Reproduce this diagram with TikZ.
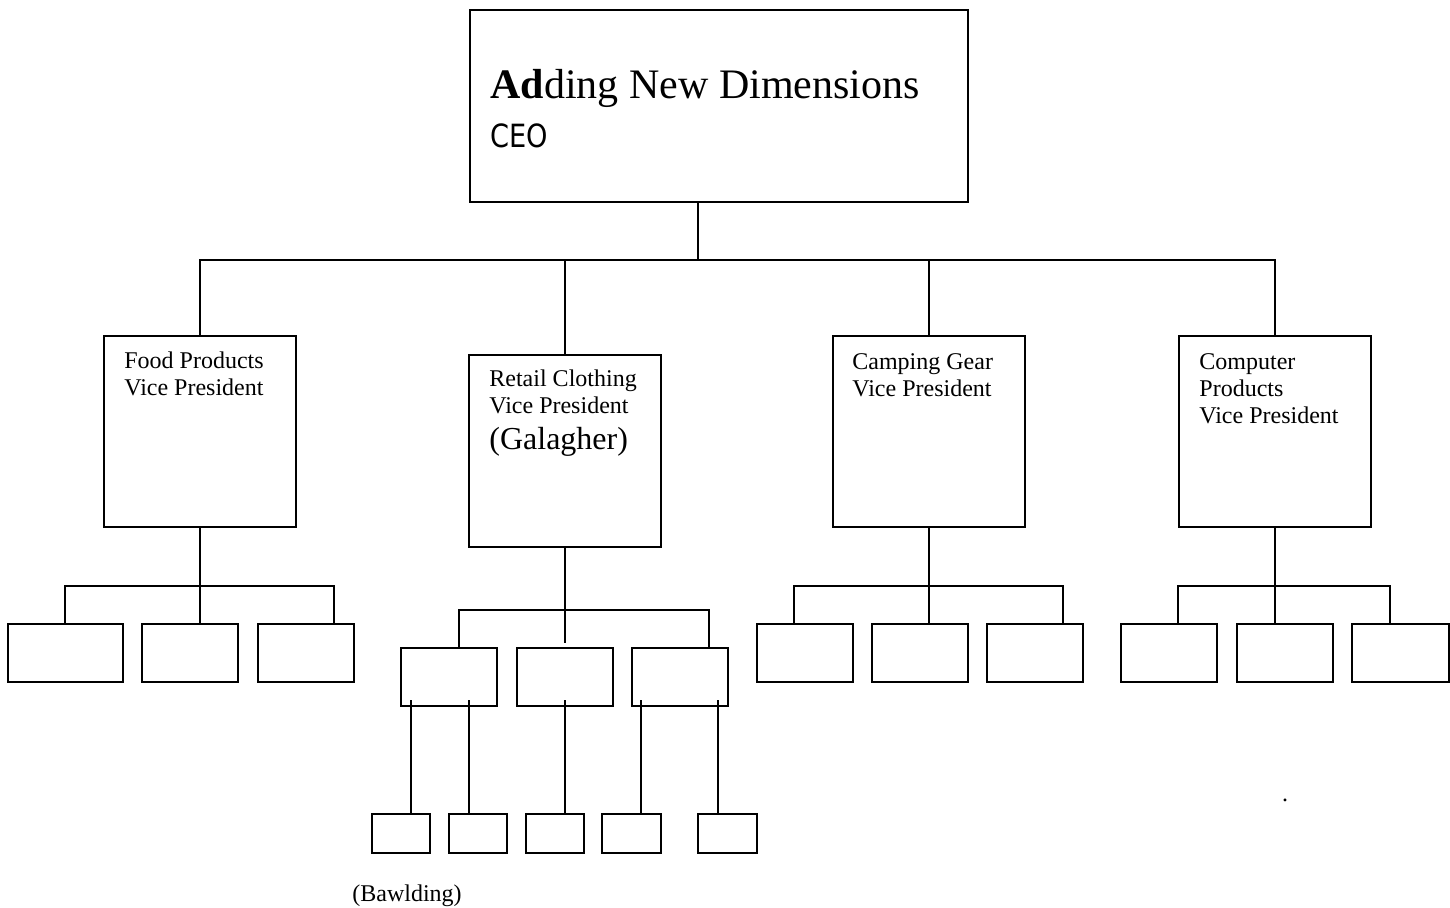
\documentclass[tikz,border=0pt]{standalone}
\usepackage{fontspec}
\setmainfont{Liberation Serif}
\newfontfamily\ceofont{DejaVu Sans}[FakeStretch=0.85]
\usetikzlibrary{positioning,calc}

\begin{document}
\begin{tikzpicture}[x=0.5pt, y=-0.5pt,
  box/.style={rectangle, draw, line width=1pt, inner sep=0pt},
  vpbox/.style={box, minimum width=96pt, minimum height=95.5pt},
  unitbox/.style={box, minimum width=48pt, minimum height=29pt},
  teambox/.style={box, minimum width=29pt, minimum height=19.5pt},
  boxtext/.style={anchor=base west, inner sep=0pt, align=left, font=\fontsize{12}{13.5}\selectfont},
  link/.style={line width=0.8pt}]

\useasboundingbox (0,0) rectangle (1450,907);

% top
\node[box, minimum width=249pt, minimum height=96pt] (ceo) at (719,106) {};
\node[anchor=base west, inner sep=0pt, align=left, font=\fontsize{21}{24.5}\selectfont] (ceotxt) at ([xshift=10.5pt,yshift=-69pt]ceo.north west) {\textbf{Ad}ding New Dimensions\\{\ceofont\fontsize{16}{19}\selectfont CEO}};

% vice presidents
\node[vpbox] (food) at (200,431.5) {};
\node[vpbox, minimum height=96pt] (retail) at (565,451) {};
\node[vpbox] (camping) at (929,431.5) {};
\node[vpbox] (computer) at (1275,431.5) {};

% text sits on the baseline of its last line
\node[boxtext] (foodtxt) at ([xshift=10.5pt,yshift=-30pt]food.north west) {Food Products\\Vice President};
\node[boxtext] (retailtxt) at ([xshift=10.5pt,yshift=-29.5pt]retail.north west) {Retail Clothing\\Vice President};
\node[boxtext, font=\fontsize{16}{18}\selectfont] (galagher) at ([yshift=-18pt]retailtxt.base west) {(Galagher)};
\node[boxtext] (campingtxt) at ([xshift=10pt,yshift=-30.5pt]camping.north west) {Camping Gear\\Vice President};
\node[boxtext] (computertxt) at ([xshift=10.5pt,yshift=-44pt]computer.north west) {Computer\\Products\\Vice President};

\coordinate (ceodrop) at (698,260);
\draw[link] (ceodrop |- ceo.south) -- (ceodrop);
\draw[link] (food.north) |- (computer.north |- ceodrop) -- (computer.north);
\draw[link] (retail.north) -- (retail.north |- ceodrop);
\draw[link] (camping.north) -- (camping.north |- ceodrop);

% food products units
\node[unitbox, minimum width=57.5pt] (fp1) at (65.5,653) {};
\node[unitbox] (fp2) at (190,653) {};
\node[unitbox] (fp3) at (305.5,653) {};
\coordinate (fpL) at (65,586);
\coordinate (fpR) at (334,586);
\draw[link] (fpL |- fp1.north) -- (fpL) -- (fpR) -- (fpR |- fp3.north);
\draw[link] (food.south) -- (food.south |- fp2.north);

% retail clothing units
\node[unitbox] (rc1) at (449,677) {};
\node[unitbox] (rc2) at (565,677) {};
\node[unitbox] (rc3) at (680,677) {};
\coordinate (rcL) at (459,610);
\coordinate (rcR) at (709,610);
\draw[link] (rcL |- rc1.north) -- (rcL) -- (rcR) -- (rcR |- rc3.north);
\draw[link] (retail.south) -- ([yshift=2pt]rc2.north);

% retail teams
\node[teambox] (bb1) at (401,833.5) {};
\node[teambox] (bb2) at (478,833.5) {};
\node[teambox] (bb3) at (555,833.5) {};
\node[teambox, minimum width=29.5pt] (bb4) at (631.5,833.5) {};
\node[teambox, minimum width=29.5pt] (bb5) at (727.5,833.5) {};
\draw[link] ([xshift=5pt]bb1.north) -- ([xshift=5pt,yshift=3.5pt]bb1.north |- rc1.south);
\draw[link] ([xshift=-4.5pt]bb2.north) -- ([xshift=-4.5pt,yshift=3.5pt]bb2.north |- rc1.south);
\draw[link] ([xshift=5pt]bb3.north) -- ([xshift=5pt,yshift=3.5pt]bb3.north |- rc2.south);
\draw[link] ([xshift=4.75pt]bb4.north) -- ([xshift=4.75pt,yshift=3.5pt]bb4.north |- rc3.south);
\draw[link] ([xshift=-4.75pt]bb5.north) -- ([xshift=-4.75pt,yshift=3.5pt]bb5.north |- rc3.south);
\node[anchor=base west, inner sep=0pt, font=\fontsize{12}{13.5}\selectfont] (bawlding) at (352,901) {(Bawlding)};

% camping gear units
\node[unitbox] (cg1) at (805,653) {};
\node[unitbox] (cg2) at (920,653) {};
\node[unitbox] (cg3) at (1035,653) {};
\coordinate (cgL) at (794,586);
\coordinate (cgR) at (1063,586);
\draw[link] (cgL |- cg1.north) -- (cgL) -- (cgR) -- (cgR |- cg3.north);
\draw[link] (camping.south) -- (camping.south |- cg2.north);

% computer products units
\node[unitbox] (cp1) at (1169,653) {};
\node[unitbox] (cp2) at (1285,653) {};
\node[unitbox, minimum width=48.5pt] (cp3) at (1400.5,653) {};
\coordinate (cpL) at (1178,586);
\coordinate (cpR) at (1390,586);
\draw[link] (cpL |- cp1.north) -- (cpL) -- (cpR) -- (cpR |- cp3.north);
\draw[link] (computer.south) -- (computer.south |- cp2.north);

\node[anchor=base, inner sep=0pt, font=\fontsize{12}{13.5}\selectfont] (dot) at (1285,801) {.};

\end{tikzpicture}
\end{document}
